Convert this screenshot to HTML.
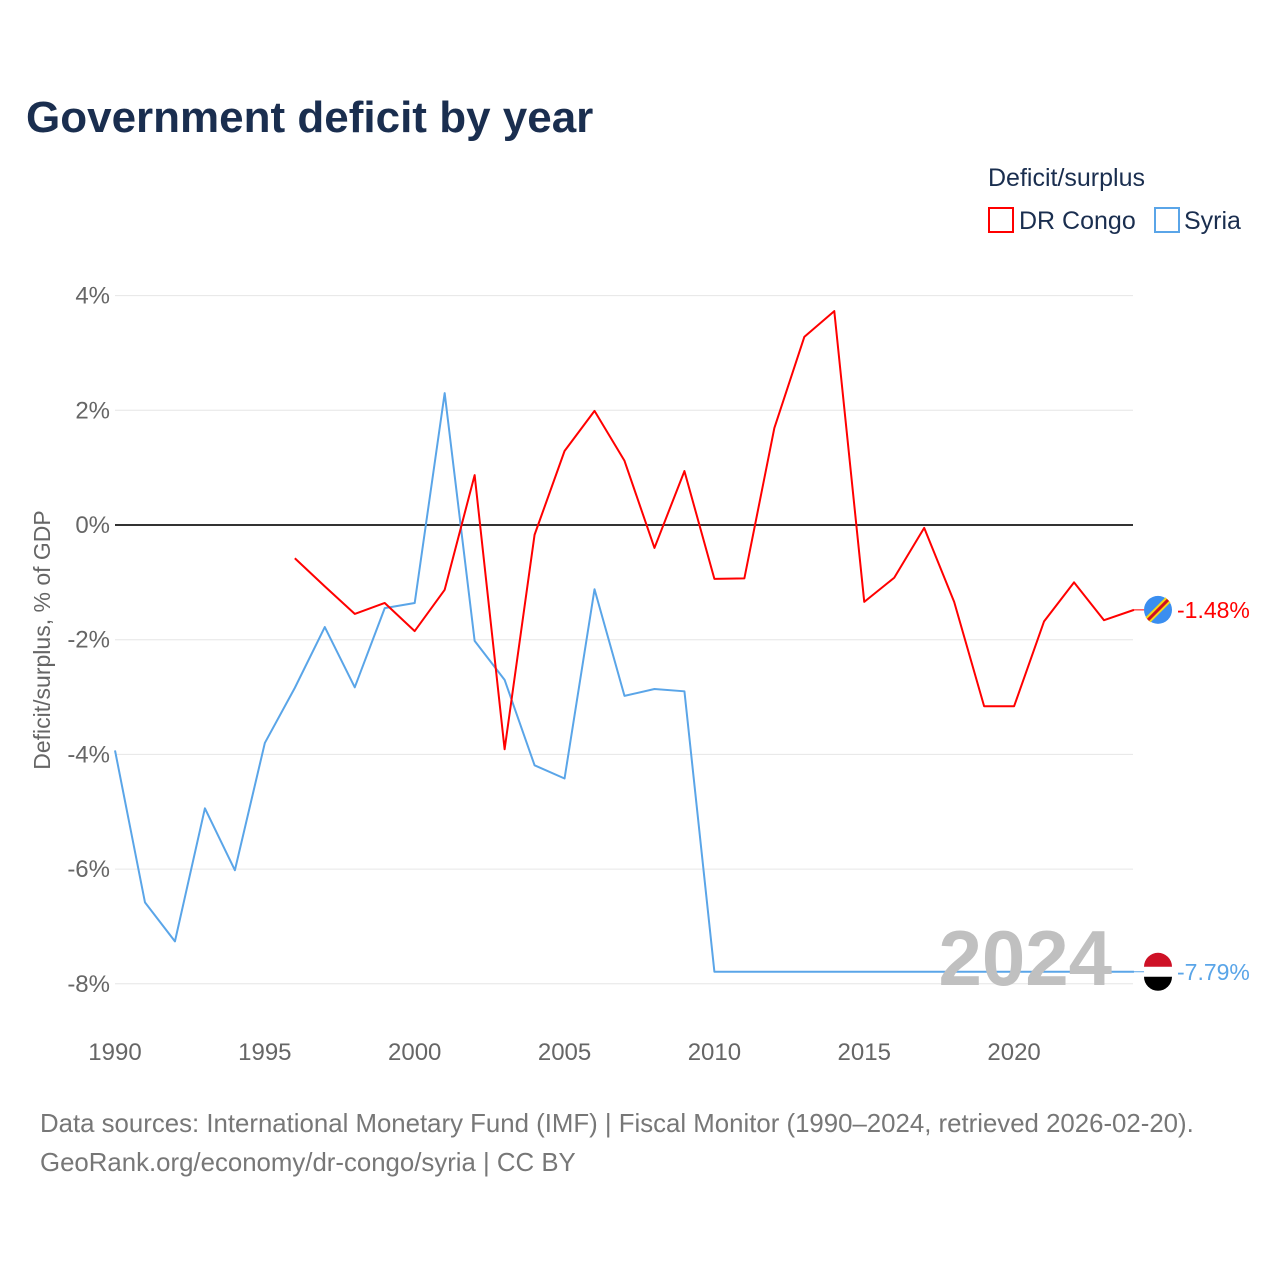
<!DOCTYPE html>
<html><head><meta charset="utf-8"><style>
body{margin:0;background:#fff;font-family:"Liberation Sans",sans-serif;}
svg text{font-family:"Liberation Sans",sans-serif;}
</style></head><body>
<svg width="1280" height="1280" xmlns="http://www.w3.org/2000/svg">
<text x="26" y="132" font-size="44" font-weight="bold" fill="#1a2e4f">Government deficit by year</text>
<text x="988" y="186" font-size="25" fill="#1a2e4f">Deficit/surplus</text>
<g><rect x="989" y="208" width="24" height="24" fill="none" stroke="#f00" stroke-width="2"/><text x="1019" y="229" font-size="25" fill="#1a2e4f">DR Congo</text></g>
<g><rect x="1155" y="208" width="24" height="24" fill="none" stroke="#5aa5e8" stroke-width="2"/><text x="1184" y="229" font-size="25" fill="#1a2e4f">Syria</text></g>
<g id="grid"></g>
<text transform="translate(50,640) rotate(-90)" text-anchor="middle" font-size="23" fill="#666">Deficit/surplus, % of GDP</text>
<g id="plot"></g>
<text x="1112" y="985" text-anchor="end" font-size="78" font-weight="bold" fill="#c0c0c0">2024</text>
<g id="ends"></g>
<text x="40" y="1132" font-size="25.8" fill="#777">Data sources: International Monetary Fund (IMF) | Fiscal Monitor (1990–2024, retrieved 2026-02-20).</text>
<text x="40" y="1171" font-size="25.8" fill="#777">GeoRank.org/economy/dr-congo/syria | CC BY</text>
</svg>
<script>
const yTicks=[4,2,0,-2,-4,-6,-8];
const xTicks=[1990,1995,2000,2005,2010,2015,2020];
const congoYears=[1996,1997,1998,1999,2000,2001,2002,2003,2004,2005,2006,2007,2008,2009,2010,2011,2012,2013,2014,2015,2016,2017,2018,2019,2020,2021,2022,2023,2024];
const congoValues=[-0.58,-1.07,-1.55,-1.36,-1.85,-1.13,0.87,-3.91,-0.17,1.29,1.99,1.12,-0.4,0.94,-0.94,-0.93,1.69,3.28,3.73,-1.34,-0.92,-0.05,-1.34,-3.16,-3.16,-1.68,-1.0,-1.66,-1.48];
const syriaYears=[1990,1991,1992,1993,1994,1995,1996,1997,1998,1999,2000,2001,2002,2003,2004,2005,2006,2007,2008,2009,2010,2011,2012,2013,2014,2015,2016,2017,2018,2019,2020,2021,2022,2023,2024];
const syriaValues=[-3.93,-6.58,-7.26,-4.94,-6.02,-3.8,-2.84,-1.78,-2.83,-1.45,-1.36,2.3,-2.02,-2.7,-4.19,-4.42,-1.12,-2.98,-2.86,-2.9,-7.79,-7.79,-7.79,-7.79,-7.79,-7.79,-7.79,-7.79,-7.79,-7.79,-7.79,-7.79,-7.79,-7.79,-7.79];
const X=y=>115+(y-1990)*29.97, Y=v=>525-v*57.35;
const NS="http://www.w3.org/2000/svg";
function mk(t,a,p){const e=document.createElementNS(NS,t);for(const k in a)e.setAttribute(k,a[k]);p.appendChild(e);return e;}
const g=document.getElementById('grid'),p=document.getElementById('plot'),en=document.getElementById('ends');
yTicks.forEach(v=>{
 const l=mk('line',{x1:115,x2:1133,y1:Y(v),y2:Y(v),stroke:v==0?'#333':'#e6e6e6','stroke-width':v==0?2:1},g);
 
 
 const t=mk('text',{x:110,y:Y(v)+8,'text-anchor':'end','font-size':24,fill:'#666'},g);t.textContent=v+'%';
 
 
});
xTicks.forEach(y=>{
 const t=mk('text',{x:X(y),y:1060,'text-anchor':'middle','font-size':24,fill:'#666'},g);t.textContent=y;
 
 
});
function line(ys,vs,c,name){
 const l=mk('polyline',{points:ys.map((y,i)=>X(y)+','+Y(vs[i])).join(' '),fill:'none',stroke:c,'stroke-width':2,'stroke-linejoin':'round'},p);
 
 
}
line(syriaYears,syriaValues,'#5aa5e8','syria-line');
line(congoYears,congoValues,'#f00','dr-congo-line');
function end(ys,vs,c,name,col1){
 const lx=X(ys[ys.length-1]),v=vs[vs.length-1],cy=Y(v);
 const l=mk('line',{x1:lx,x2:1145,y1:cy,y2:cy,stroke:c,'stroke-width':1},en);
 
 
 const f=mk('circle',{cx:1158,cy:cy,r:14,fill:col1},en);
 
 
 const t=mk('text',{x:1177,y:cy+8,'font-size':23,fill:c},en);t.textContent=v.toFixed(2)+'%';
 
 
 return cy;
}
const cc=end(congoYears,congoValues,'#f00','dr-congo','#3a8ef0');
mk('line',{x1:1148,y1:cc+10,x2:1168,y2:cc-10,stroke:'#f7d618','stroke-width':7},en);
mk('line',{x1:1148,y1:cc+10,x2:1168,y2:cc-10,stroke:'#ce1021','stroke-width':3},en);
const sc=end(syriaYears,syriaValues,'#5aa5e8','syria','#fff');
mk('path',{d:`M1144,${sc-5} A14,14 0 0 1 1172,${sc-5} Z`,fill:'#ce1126'},en);
mk('path',{d:`M1144,${sc+5} A14,14 0 0 0 1172,${sc+5} Z`,fill:'#000'},en);
</script>
</body></html>
